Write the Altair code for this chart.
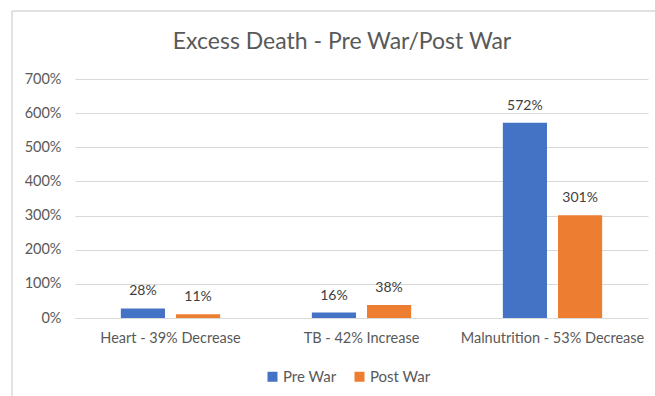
import altair as alt
import pandas as pd

categories = ["Heart - 39% Decrease", "TB - 42% Increase", "Malnutrition - 53% Decrease"]
series = ["Pre War", "Post War"]
pre_war = [28, 16, 572]
post_war = [11, 38, 301]
y_ticks = [0, 100, 200, 300, 400, 500, 600, 700]
colors = ["#4472C4", "#ED7D31"]
title_text = "Excess Death - Pre War/Post War"

rows = []
for c, p, q in zip(categories, pre_war, post_war):
    rows.append({"cat": c, "series": "Pre War", "value": p, "label": f"{p}%"})
    rows.append({"cat": c, "series": "Post War", "value": q, "label": f"{q}%"})
df = pd.DataFrame(rows)

FONT = "Lato"
GRAY = "#595959"

x = alt.X("cat:N", sort=categories, title=None,
          scale=alt.Scale(paddingInner=0.48, paddingOuter=0.24),
          axis=alt.Axis(labelAngle=0, ticks=False, grid=False, domainColor="#D9D9D9",
                        labelColor=GRAY, labelFontSize=14.5, labelFont=FONT,
                        labelLimit=400, labelPadding=13))
xo = alt.XOffset("series:N", sort=series, scale=alt.Scale(paddingInner=0.2))
y = alt.Y("value:Q", title=None,
          scale=alt.Scale(domain=[0, 700], nice=False),
          axis=alt.Axis(values=y_ticks, labelExpr="datum.value + '%'",
                        ticks=False, domain=False, grid=True, gridColor="#D9D9D9",
                        labelOverlap=False, labelColor=GRAY, labelFontSize=14.5,
                        labelFont=FONT, labelPadding=14))

bars = alt.Chart(df).mark_bar().encode(
    x=x, xOffset=xo, y=y,
    color=alt.Color("series:N", sort=series,
                    scale=alt.Scale(domain=series, range=colors),
                    legend=alt.Legend(title=None, orient="none", direction="horizontal",
                                      legendX=190, legendY=290, symbolType="square",
                                      symbolSize=100, symbolStrokeWidth=0,
                                      labelFontSize=15, labelFont=FONT, labelColor=GRAY,
                                      columnPadding=15, labelOffset=3)),
)

labels = alt.Chart(df).mark_text(baseline="alphabetic", dy=-13, fontSize=14,
                                 font=FONT, color="#404040").encode(
    x=x, xOffset=xo, y=y, text="label:N")

one = pd.DataFrame({"t": [title_text]})
title = alt.Chart(one).mark_text(fontSize=23, font=FONT, color=GRAY,
                                 baseline="middle", align="center").encode(
    x=alt.value(267), y=alt.value(-37), text="t:N")

border = alt.Chart(one).mark_rule(color="#D9D9D9", strokeWidth=1.5).encode(
    x=alt.value(-63), y=alt.value(-68), y2=alt.value(330))
border_top = alt.Chart(one).mark_rule(color="#D9D9D9", strokeWidth=1.5).encode(
    x=alt.value(-63), x2=alt.value(590), y=alt.value(-68))

chart = alt.layer(bars, labels, border, border_top, title).properties(
    width=573, height=239,
    autosize=alt.AutoSizeParams(type="none"),
    padding={"left": 75, "top": 79, "right": 7, "bottom": 78},
).configure_view(stroke=None)

chart.save("out.html", embed_options={"renderer": "svg", "actions": False})
